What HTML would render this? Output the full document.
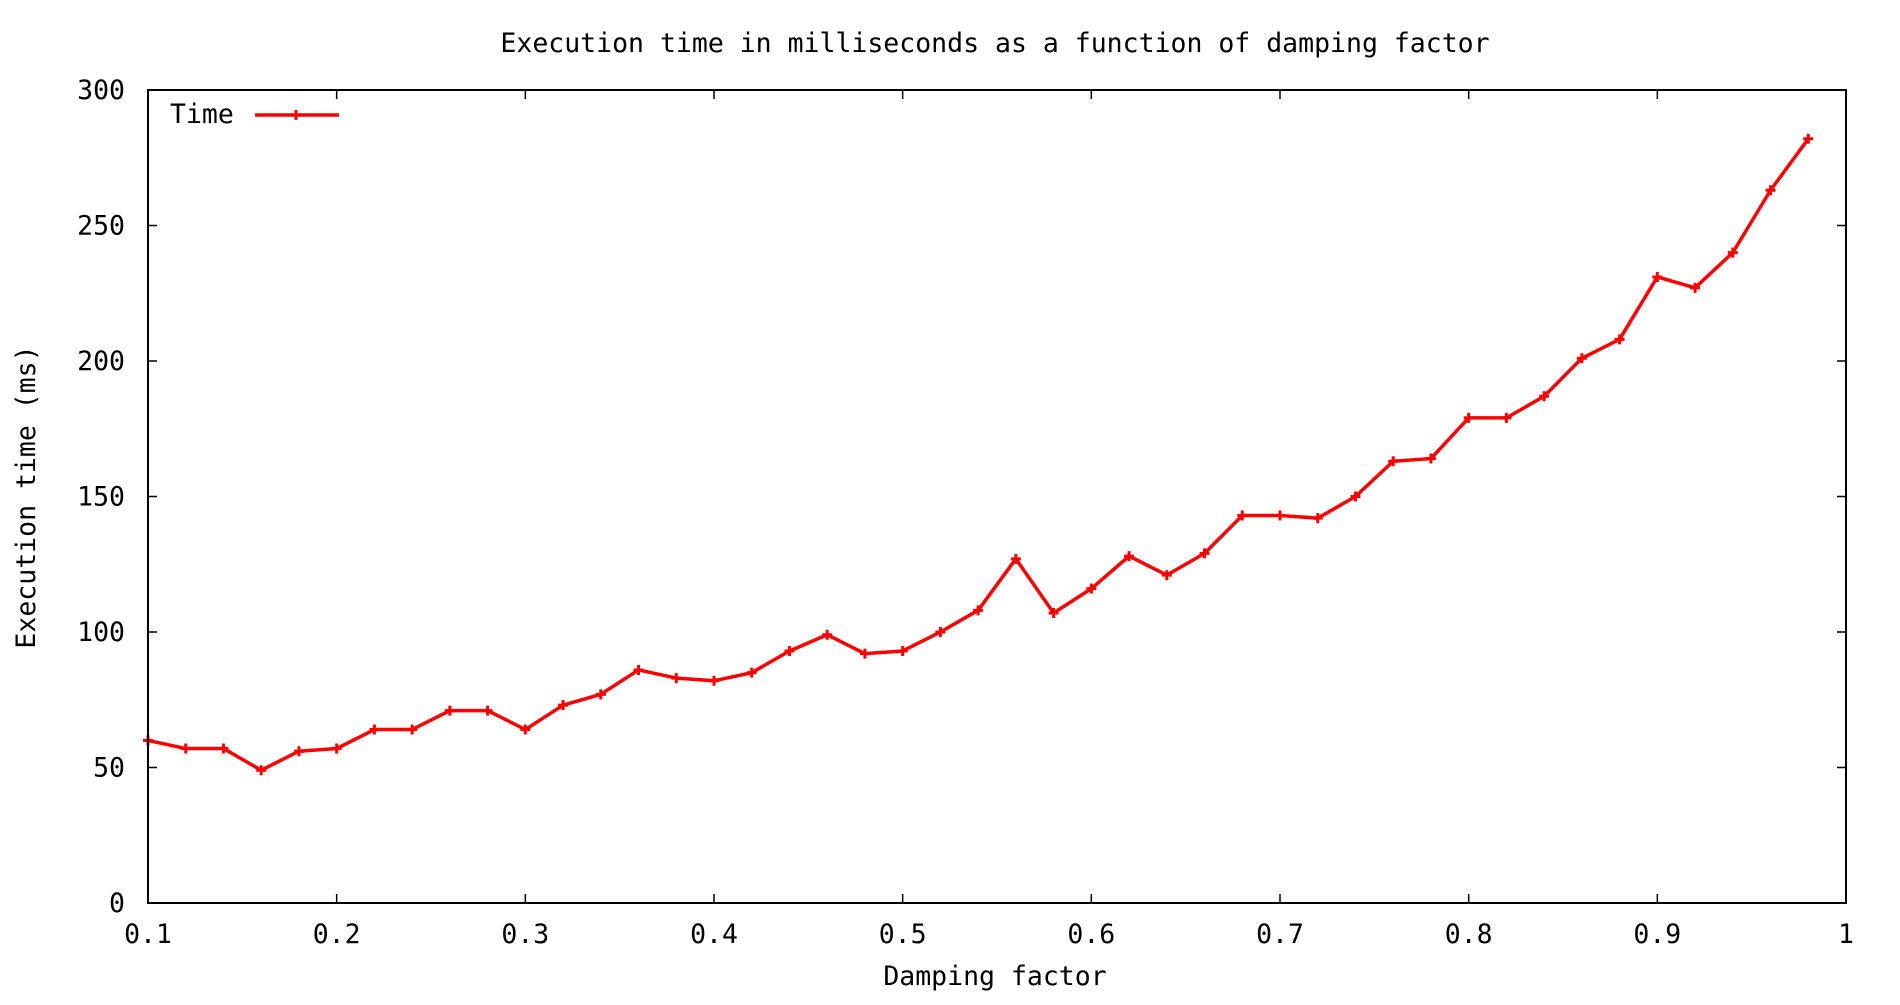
<!DOCTYPE html>
<html><head><meta charset="utf-8"><style>
html,body{margin:0;padding:0;background:#fff;}
svg text{font-family:"DejaVu Sans Mono","Liberation Mono",monospace;fill:#000;}
</style></head><body>
<svg id="chart" width="1900" height="1000" viewBox="0 0 1900 1000" xmlns="http://www.w3.org/2000/svg">
<text x="995" y="52" font-size="26.5" text-anchor="middle">Execution time in milliseconds as a function of damping factor</text>
<text transform="translate(35,497) rotate(-90)" font-size="26.5" text-anchor="middle">Execution time (ms)</text>
<text x="995" y="985" font-size="26.5" text-anchor="middle">Damping factor</text>
<g id="axes"></g>
<g id="series"></g>
<g>
<text x="170" y="123" font-size="26.5">Time</text>
<line x1="255" y1="115" x2="339" y2="115" stroke="#f00" stroke-width="3.5"/>
<path d="M296 110V120M291 115H301" stroke="#f00" stroke-width="3"/>
</g>
<rect x="148" y="90" width="1698" height="813" fill="none" stroke="#000" stroke-width="2"/>
</svg>
<script>
const xValues=[0.10,0.12,0.14,0.16,0.18,0.20,0.22,0.24,0.26,0.28,0.30,0.32,0.34,0.36,0.38,0.40,0.42,0.44,0.46,0.48,0.50,0.52,0.54,0.56,0.58,0.60,0.62,0.64,0.66,0.68,0.70,0.72,0.74,0.76,0.78,0.80,0.82,0.84,0.86,0.88,0.90,0.92,0.94,0.96,0.98];
const timeValues=[60,57,57,49,56,57,64,64,71,71,64,73,77,86,83,82,85,93,99,92,93,100,108,127,107,116,128,121,129,143,143,142,150,163,164,179,179,187,201,208,231,227,240,263,282];
const xTicks=[0.1,0.2,0.3,0.4,0.5,0.6,0.7,0.8,0.9,1];
const xTickLabels=["0.1","0.2","0.3","0.4","0.5","0.6","0.7","0.8","0.9","1"];
const yTicks=[0,50,100,150,200,250,300];
const yTickLabels=["0","50","100","150","200","250","300"];
const L=148,R=1846,T=90,B=903;
const sx=v=>L+(v-0.1)/(1-0.1)*(R-L);
const sy=v=>B-v/300*(B-T);
const NS="http://www.w3.org/2000/svg";
const axes=document.getElementById('axes');
function mk(tag,attrs,parent){const e=document.createElementNS(NS,tag);for(const k in attrs)e.setAttribute(k,attrs[k]);parent.appendChild(e);return e;}
xTicks.forEach((v,i)=>{
  const x=sx(v);
  const t=mk('path',{d:`M${x} ${B}V${B-9}M${x} ${T}V${T+9}`,stroke:'#000','stroke-width':1.5},axes);
  
  
  const l=mk('text',{x:x,y:943,'font-size':26.5,'text-anchor':'middle'},axes);
  l.textContent=xTickLabels[i];
  
  
});
yTicks.forEach((v,i)=>{
  const y=sy(v);
  const t=mk('path',{d:`M${L} ${y}H${L+9}M${R} ${y}H${R-9}`,stroke:'#000','stroke-width':1.5},axes);
  
  
  const l=mk('text',{x:125,y:y+9,'font-size':26.5,'text-anchor':'end'},axes);
  l.textContent=yTickLabels[i];
  
  
});
const g=document.getElementById('series');
const pts=xValues.map((x,i)=>[sx(x),sy(timeValues[i])]);
const line=mk('polyline',{points:pts.map(p=>p.join(',')).join(' '),fill:'none',stroke:'#f00','stroke-width':3.5,'stroke-linejoin':'round'},g);


pts.forEach(p=>{
  const m=mk('path',{d:`M${p[0]} ${p[1]-5}V${p[1]+5}M${p[0]-5} ${p[1]}H${p[0]+5}`,stroke:'#f00','stroke-width':3},g);
  
  
});
</script>
</body></html>
